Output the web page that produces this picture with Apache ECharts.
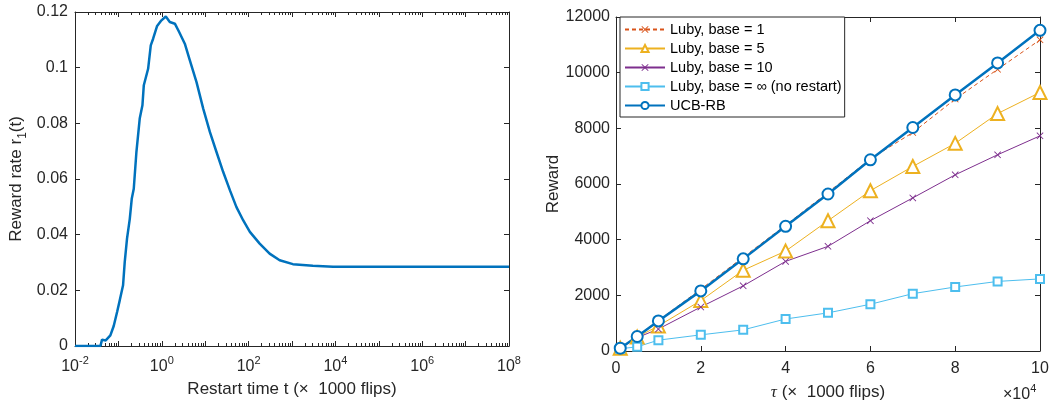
<!DOCTYPE html>
<html><head><meta charset="utf-8">
<script src="https://cdn.jsdelivr.net/npm/echarts@6/dist/echarts.min.js"></script>
<style>html,body{margin:0;padding:0;background:#fff}#c{width:1061px;height:402px}</style>
</head><body><div id="c"></div>
<script>
// Left panel: reward rate vs restart time (x1000 flips)
const restartTime = [0.01, 0.0385, 0.042, 0.046, 0.051, 0.0653, 0.078, 0.0933, 0.1074, 0.128, 0.14, 0.158, 0.183, 0.203, 0.226, 0.26, 0.31, 0.358, 0.385, 0.484, 0.557, 0.631, 0.78, 0.982, 1.236, 1.53, 2.0, 2.51, 3.39, 4.43, 6.31, 9.0, 12.8, 18.2, 26, 37.2, 52.5, 75.3, 107, 180, 305, 520, 1047, 3020, 8810, 1e5, 1e8];
const rewardRate = [0, 0, 0.0023, 0.0024, 0.002, 0.0038, 0.0072, 0.0122, 0.0164, 0.0218, 0.0302, 0.0386, 0.0457, 0.0529, 0.0565, 0.0697, 0.0817, 0.0865, 0.0937, 0.0996, 0.108, 0.1104, 0.115, 0.117, 0.1184, 0.1164, 0.1158, 0.1128, 0.1086, 0.1026, 0.0948, 0.0853, 0.0769, 0.0697, 0.0625, 0.0559, 0.0499, 0.0451, 0.041, 0.0368, 0.0332, 0.0308, 0.0294, 0.0288, 0.0285, 0.0285, 0.0285];

// Right panel: reward vs tau (x1000 flips)
const tau = [1000, 5000, 10000, 20000, 30000, 40000, 50000, 60000, 70000, 80000, 90000, 100000];
const luby1 = [100, 530, 1100, 2220, 3370, 4520, 5700, 6900, 7850, 9050, 10120, 11180];
const luby5 = [100, 500, 900, 1810, 2900, 3590, 4680, 5760, 6630, 7460, 8530, 9290];
const luby10 = [100, 480, 790, 1580, 2340, 3220, 3760, 4680, 5500, 6330, 7050, 7730];
const lubyInf = [80, 150, 390, 580, 760, 1150, 1370, 1680, 2060, 2300, 2500, 2590];
const ucbRB = [100, 520, 1080, 2160, 3310, 4480, 5640, 6870, 8030, 9200, 10350, 11520];
const seriesNames = ['Luby, base = 1', 'Luby, base = 5', 'Luby, base = 10', 'Luby, base = \u221E (no restart)', 'UCB-RB'];

const FONT = '"Liberation Sans", Arial, Helvetica, sans-serif';
const AX = '#262626';
const X_SYMBOL = 'path://M0,0.9L0.9,0L5,4.1L9.1,0L10,0.9L5.9,5L10,9.1L9.1,10L5,5.9L0.9,10L0,9.1L4.1,5Z';

function pair(xs, ys) { return xs.map((x, i) => [x, ys[i]]); }

const supRich = {
  b: { fontSize: 16, fontFamily: FONT, color: AX, padding: [4, 0, 0, 0] },
  s: { fontSize: 11, fontFamily: FONT, color: AX, verticalAlign: 'top' }
};
const lineAx = { onZero: false, lineStyle: { color: AX, width: 1 } };
const tickIn = { show: true, inside: true, length: 5, lineStyle: { color: AX, width: 1 } };
const minorIn = { show: true, splitNumber: 9, length: 3, lineStyle: { color: AX, width: 1 } };

function logLabel(v) {
  const e = Math.round(Math.log10(v));
  return (e % 2 === 0) ? '{b|10}{s|' + e + '}' : '';
}

const logAxisBase = {
  type: 'log', logBase: 10, min: 0.01, max: 1e8, interval: 1,
  axisLine: lineAx, axisTick: tickIn, minorTick: minorIn,
  splitLine: { show: false }, minorSplitLine: { show: false }
};

const chart = echarts.init(document.getElementById('c'));
chart.setOption({
  animation: false,
  backgroundColor: '#fff',
  textStyle: { fontFamily: FONT },
  grid: [
    { left: 75, top: 12, width: 434, height: 334, containLabel: false, outerBoundsMode: 'none' },
    { left: 616, top: 17, width: 424, height: 334, containLabel: false, outerBoundsMode: 'none' }
  ],
  xAxis: [
    Object.assign({}, logAxisBase, {
      gridIndex: 0, position: 'bottom',
      axisLabel: { show: true, margin: 9, formatter: logLabel, rich: supRich },
      name: 'Restart time t (\u00D7  1000 flips)', nameLocation: 'middle', nameGap: 35,
      nameTextStyle: { fontSize: 17, color: AX, fontFamily: FONT }
    }),
    Object.assign({}, logAxisBase, {
      gridIndex: 0, position: 'top', axisLabel: { show: false }
    }),
    {
      type: 'value', gridIndex: 1, position: 'bottom', min: 0, max: 100000, interval: 20000,
      axisLine: lineAx, axisTick: tickIn, splitLine: { show: false },
      axisLabel: { margin: 10, fontSize: 16, color: AX, fontFamily: FONT, formatter: v => String(v / 10000) },
      name: '{i|\u03C4} (\u00D7  1000 flips)', nameLocation: 'middle', nameGap: 33,
      nameTextStyle: { fontSize: 17, color: AX, fontFamily: FONT,
        rich: { i: { fontSize: 17, fontStyle: 'italic', fontFamily: '"Liberation Serif", serif', color: AX } } }
    },
    {
      type: 'value', gridIndex: 1, position: 'top', min: 0, max: 100000, interval: 20000,
      axisLine: lineAx, axisTick: tickIn, splitLine: { show: false }, axisLabel: { show: false }
    }
  ],
  yAxis: [
    {
      type: 'value', gridIndex: 0, position: 'left', min: 0, max: 0.12, interval: 0.02,
      axisLine: lineAx, axisTick: tickIn, splitLine: { show: false },
      axisLabel: { margin: 7, fontSize: 16, color: AX, fontFamily: FONT, formatter: v => v === 0 ? '0' : String(+v.toFixed(2)) },
      name: '{m|Reward rate r}{sub|1}{m|(t)}', nameLocation: 'middle', nameGap: 46,
      nameTextStyle: { fontSize: 17, color: AX, fontFamily: FONT,
        rich: {
          m: { fontSize: 17, color: AX, fontFamily: FONT, padding: [0, 0, 4, 0] },
          sub: { fontSize: 12, color: AX, fontFamily: FONT, verticalAlign: 'bottom' }
        } }
    },
    {
      type: 'value', gridIndex: 0, position: 'right', min: 0, max: 0.12, interval: 0.02,
      axisLine: lineAx, axisTick: tickIn, splitLine: { show: false }, axisLabel: { show: false }
    },
    {
      type: 'value', gridIndex: 1, position: 'left', min: 0, max: 12000, interval: 2000,
      axisLine: lineAx, axisTick: tickIn, splitLine: { show: false },
      axisLabel: { margin: 6, fontSize: 16, color: AX, fontFamily: FONT, formatter: v => String(v) },
      name: 'Reward', nameLocation: 'middle', nameGap: 51,
      nameTextStyle: { fontSize: 17, color: AX, fontFamily: FONT }
    },
    {
      type: 'value', gridIndex: 1, position: 'right', min: 0, max: 12000, interval: 2000,
      axisLine: lineAx, axisTick: tickIn, splitLine: { show: false }, axisLabel: { show: false }
    }
  ],
  legend: {
    left: 620, top: 17, orient: 'vertical',
    data: seriesNames,
    backgroundColor: '#fff', borderColor: AX, borderWidth: 1, borderRadius: 0,
    padding: [5, 3, 4, 4], itemGap: 4, itemWidth: 40, itemHeight: 9,
    textStyle: { fontSize: 14.5, color: '#000', fontFamily: FONT },
    selectedMode: false
  },
  graphic: [{
    type: 'text', left: 1003, top: 383, silent: true,
    style: {
      text: '{b|\u00D710}{s|4}',
      rich: {
        b: { fontSize: 16, fontFamily: FONT, fill: AX, color: AX, padding: [4, 0, 0, 0] },
        s: { fontSize: 11, fontFamily: FONT, fill: AX, color: AX, verticalAlign: 'top' }
      }
    }
  }],
  series: [
    {
      type: 'line', xAxisIndex: 0, yAxisIndex: 0, data: pair(restartTime, rewardRate),
      showSymbol: false, symbol: 'none', lineStyle: { color: '#0072BD', width: 2.5 }, clip: true
    },
    {
      name: seriesNames[0], type: 'line', xAxisIndex: 2, yAxisIndex: 2, data: pair(tau, luby1),
      symbol: X_SYMBOL, symbolSize: 7, color: '#D95319',
      itemStyle: { color: '#D95319' },
      lineStyle: { color: '#D95319', width: 1, type: [4, 3] }
    },
    {
      name: seriesNames[1], type: 'line', xAxisIndex: 2, yAxisIndex: 2, data: pair(tau, luby5),
      symbol: 'emptyTriangle', symbolSize: 13, color: '#EDB120',
      itemStyle: { color: '#EDB120', borderColor: '#EDB120', borderWidth: 1 },
      lineStyle: { color: '#EDB120', width: 1 }
    },
    {
      name: seriesNames[2], type: 'line', xAxisIndex: 2, yAxisIndex: 2, data: pair(tau, luby10),
      symbol: X_SYMBOL, symbolSize: 7, color: '#7E2F8E',
      itemStyle: { color: '#7E2F8E' },
      lineStyle: { color: '#7E2F8E', width: 1 }
    },
    {
      name: seriesNames[3], type: 'line', xAxisIndex: 2, yAxisIndex: 2, data: pair(tau, lubyInf),
      symbol: 'emptyRect', symbolSize: 8, color: '#4DBEEE',
      itemStyle: { color: '#4DBEEE', borderColor: '#4DBEEE', borderWidth: 1 },
      lineStyle: { color: '#4DBEEE', width: 1 }
    },
    {
      name: seriesNames[4], type: 'line', xAxisIndex: 2, yAxisIndex: 2, data: pair(tau, ucbRB),
      symbol: 'emptyCircle', symbolSize: 11, color: '#0072BD',
      itemStyle: { color: '#0072BD', borderColor: '#0072BD', borderWidth: 2.5 },
      lineStyle: { color: '#0072BD', width: 2.5 }
    }
  ]
});
</script></body></html>
